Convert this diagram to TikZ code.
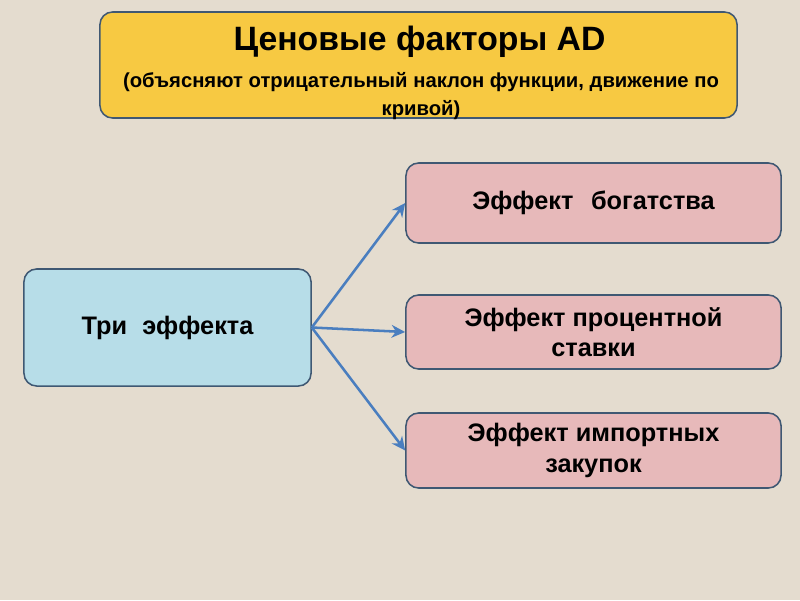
\documentclass[tikz,border=0pt]{standalone}
\usepackage{fontspec}
\setmainfont{Liberation Sans}
\usepackage{tikz}
\usetikzlibrary{arrows.meta,positioning}
\definecolor{bgc}{HTML}{E4DCCF}
\definecolor{goldc}{HTML}{F7C942}
\definecolor{bluec}{HTML}{B7DDE8}
\definecolor{pinkc}{HTML}{E7B9BA}
\definecolor{edgec}{HTML}{3F5873}
\definecolor{arrc}{HTML}{4A7EBF}
\tikzset{
  ar/.style={-{Stealth[length=3.4mm,width=3.2mm]},line width=1.8pt,arrc},
  box/.style={draw=edgec,line width=1.1pt,rounded corners=9pt,align=center,font=\bfseries\fontsize{18}{21.5}\selectfont},
  effbox/.style={box,fill=pinkc,minimum width=9.375cm}
}
\begin{document}
\begin{tikzpicture}[x=0.025cm,y=-0.025cm]
\fill[bgc] (0,0) rectangle (800,600);
% heading
\node[box,fill=goldc,minimum width=15.925cm,minimum height=2.65cm] (head) at (418.5,65) {};
\node[font=\bfseries\fontsize{24}{28}\selectfont] (title) at (419.5,42) {Ценовые факторы AD};
\node[font=\bfseries\fontsize{14.4}{20}\selectfont,align=center] (sub) at (421,96)
  {(объясняют отрицательный наклон функции, движение по\\кривой)};
% three effects
\node[box,fill=bluec,minimum width=7.175cm,minimum height=2.925cm] (three) at (167.5,327.5) {Три\hspace{0.6em}эффекта};
\node[effbox,minimum height=2cm] (wealth) at (593.5,203) {Эффект\hspace{0.7em}богатства};
\node[effbox,minimum height=1.85cm] (rate) at (593.5,332) {Эффект процентной\\ставки};
\node[effbox,minimum height=1.875cm] (import) at (593.5,450.5) {Эффект импортных\\закупок};
\draw[ar] (three.east) -- (wealth.west);
\draw[ar] (three.east) -- (rate.west);
\draw[ar] (three.east) -- (import.west);
\end{tikzpicture}
\end{document}
